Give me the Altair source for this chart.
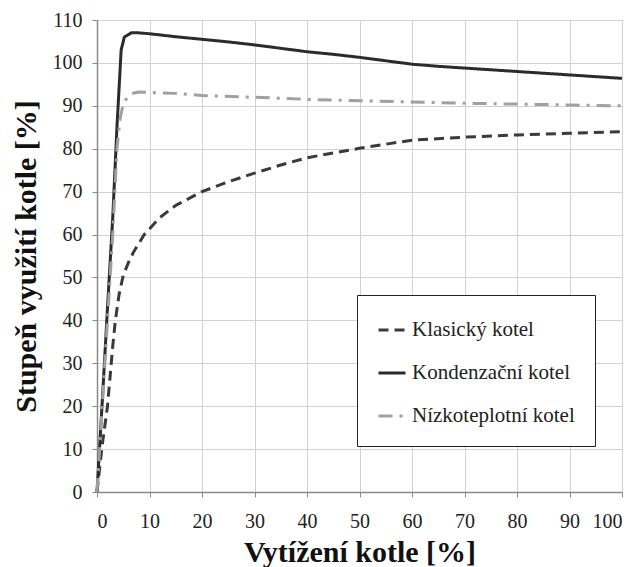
import altair as alt
import pandas as pd

series_names = ["Klasický kotel", "Kondenzační kotel", "Nízkoteplotní kotel"]

klasicky_x = [0, 1, 2, 3, 3.5, 4.2, 5, 6, 7, 9, 12, 15, 20, 25, 30, 35, 40, 50, 60, 70, 80, 90, 100]
klasicky_y = [0, 11, 20, 34, 40, 46, 50.5, 53.5, 56, 60, 64, 66.8, 70, 72.3, 74.3, 76.2, 77.9, 80.1, 82, 82.7, 83.2, 83.6, 84]

kondenzacni_x = [0, 1, 2, 3, 3.8, 4.6, 5.2, 6.5, 8, 10, 15, 20, 25, 30, 35, 40, 45, 50, 55, 60, 65, 70, 75, 80, 85, 90, 95, 100]
kondenzacni_y = [0, 21, 43, 64, 85, 103, 106, 107, 107, 106.8, 106.1, 105.5, 104.9, 104.2, 103.4, 102.6, 102, 101.3, 100.5, 99.7, 99.2, 98.8, 98.4, 98, 97.6, 97.2, 96.8, 96.4]

nizkoteplotni_x = [0, 1, 2, 3, 3.8, 4.4, 5, 6, 7, 8, 10, 15, 20, 30, 40, 50, 60, 70, 80, 90, 100]
nizkoteplotni_y = [0, 20, 40, 60, 80, 87, 90.5, 92.3, 93, 93.2, 93.1, 92.9, 92.4, 92.0, 91.5, 91.2, 90.9, 90.6, 90.4, 90.2, 90.0]

x_ticks = list(range(0, 101, 10))
y_ticks = list(range(0, 111, 10))

rows = []
for name, xs, ys in [
    (series_names[0], klasicky_x, klasicky_y),
    (series_names[1], kondenzacni_x, kondenzacni_y),
    (series_names[2], nizkoteplotni_x, nizkoteplotni_y),
]:
    for i, (xv, yv) in enumerate(zip(xs, ys)):
        rows.append({"serie": name, "x": xv, "y": yv, "order": i})
df = pd.DataFrame(rows)

font = "Liberation Serif"

chart = alt.Chart(df).mark_line(strokeWidth=3, strokeCap="butt", strokeJoin="round").encode(
    x=alt.X("x:Q", scale=alt.Scale(domain=[0, 100], nice=False),
            axis=alt.Axis(values=x_ticks, title="Vytížení kotle [%]", format="d")),
    y=alt.Y("y:Q", scale=alt.Scale(domain=[0, 110], nice=False),
            axis=alt.Axis(values=y_ticks, title="Stupeň využití kotle [%]", format="d")),
    color=alt.Color("serie:N", scale=alt.Scale(domain=series_names, range=["#3a3a3a", "#2b2b2b", "#a0a0a0"]),
                    legend=alt.Legend(title=None)),
    strokeDash=alt.StrokeDash("serie:N", scale=alt.Scale(domain=series_names, range=[[10, 6], [1, 0], [14, 7, 3, 7]]),
                              legend=alt.Legend(title=None)),
    order="order:Q",
).properties(
    width=525, height=472,
    background="white",
    autosize=alt.AutoSizeParams(type="none"),
    padding={"left": 89, "top": 12, "right": 9, "bottom": 90},
).configure_view(
    stroke="#cfcfcf", strokeWidth=1
).configure_axis(
    grid=True, gridColor="#d2d2d2", gridWidth=1,
    domainColor="#8a8a8a", domainWidth=1.5,
    tickColor="#8a8a8a", tickSize=5,
    labelFont=font, labelFontSize=20, labelColor="#222",
    titleFont=font, titleFontSize=30, titleFontWeight="bold", titleColor="#111",
).configure_axisX(
    labelPadding=14, titlePadding=6,
).configure_axisY(
    labelPadding=10, titlePadding=11,
).configure_legend(
    orient="none", legendX=260, legendY=275,
    strokeColor="#222", fillColor="white", padding=20, rowPadding=18,
    labelFont=font, labelFontSize=21, labelColor="#222", labelLimit=400,
    symbolType="stroke", symbolSize=729, symbolStrokeWidth=3, labelOffset=5,
)

chart.save("out.html", embed_options={"renderer": "svg", "actions": False})
